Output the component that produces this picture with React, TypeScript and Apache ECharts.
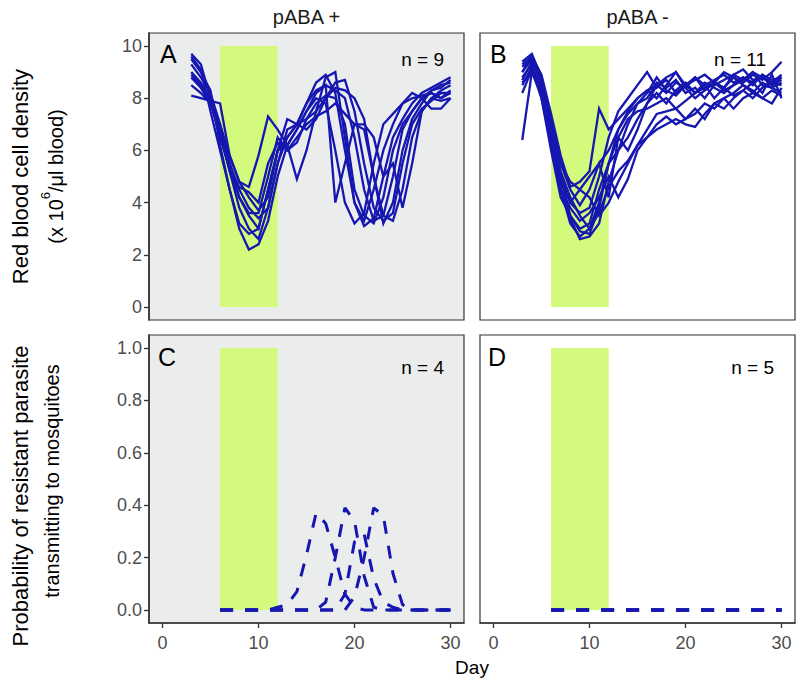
import React, { useEffect, useRef } from "react";
import * as echarts from "echarts";

// ---------- data ----------
const daysRBC = [3, 4, 5, 6, 7, 8, 9, 10, 11, 12, 13, 14, 15, 16, 17, 18, 19, 20, 21, 22, 23, 24, 25, 26, 27, 28, 29, 30];
const daysProb = [6, 7, 8, 9, 10, 11, 12, 13, 14, 15, 16, 17, 18, 19, 20, 21, 22, 23, 24, 25, 26, 27, 28, 29, 30];

const treatmentWindow = [6, 12];

const rbcPabaPlus = [
  [9.7, 9.3, 8.0, 6.8, 5.2, 3.8, 3.0, 2.6, 3.8, 5.5, 6.5, 7.0, 7.8, 8.6, 8.9, 8.2, 6.0, 4.0, 3.1, 3.4, 5.0, 6.5, 7.2, 7.8, 8.2, 8.4, 8.6, 8.8],
  [9.5, 9.0, 8.3, 6.2, 4.5, 3.0, 2.2, 2.4, 3.3, 5.0, 6.2, 6.8, 7.5, 8.0, 7.8, 6.0, 4.0, 3.2, 3.6, 5.5, 7.0, 7.4, 7.8, 8.0, 8.1, 8.2, 8.0, 8.3],
  [9.0, 8.6, 8.0, 7.0, 5.8, 4.8, 4.6, 5.8, 7.3, 6.8, 6.2, 6.8, 7.5, 8.2, 8.5, 8.3, 8.0, 6.5, 4.5, 3.3, 3.5, 5.0, 6.8, 7.5, 8.0, 8.3, 8.5, 8.6],
  [8.8, 8.4, 7.8, 6.6, 5.2, 4.2, 3.6, 3.6, 5.0, 6.5, 6.0, 6.3, 7.2, 7.8, 8.1, 8.0, 7.0, 4.5, 3.5, 3.2, 4.2, 6.0, 7.0, 7.5, 8.0, 8.2, 8.0, 8.2],
  [8.5, 8.2, 7.8, 6.8, 5.5, 4.5, 3.8, 3.4, 3.8, 5.5, 6.8, 7.0, 7.2, 7.5, 8.0, 8.4, 8.3, 8.0, 7.2, 5.0, 3.5, 3.3, 4.5, 6.5, 7.5, 8.0, 8.3, 8.5],
  [8.1, 8.0, 7.9, 6.5, 5.3, 4.6, 4.4, 4.0, 5.5, 6.3, 6.0, 6.5, 7.0, 7.3, 7.5, 7.8, 7.4, 7.0, 7.0, 6.5, 5.0, 5.5, 3.8, 5.5, 7.5, 8.0, 7.9, 8.0],
  [9.3, 8.8, 8.2, 7.0, 5.5, 4.2, 3.5, 3.0, 4.5, 6.0, 6.2, 4.9, 6.0, 7.5, 8.8, 9.0, 6.5, 4.0, 3.3, 4.5, 6.0, 7.0, 7.8, 8.2, 8.0, 7.6, 7.6, 8.0],
  [9.6, 9.1, 7.5, 6.0, 4.5, 3.2, 2.8, 3.0, 4.5, 6.0, 6.5, 7.0, 7.8, 8.3, 8.5, 4.0, 5.5, 7.0, 6.8, 5.0, 3.2, 4.0, 6.0, 7.2, 7.8, 8.3, 8.4, 8.7],
  [8.9, 8.5, 7.9, 7.8, 5.8, 4.8, 4.2, 3.7, 4.2, 6.0, 7.2, 7.0, 6.8, 7.2, 8.0, 8.6, 8.7, 7.5, 5.5, 3.8, 3.3, 3.6, 5.5, 7.0, 7.6, 7.9, 8.2, 8.2],
];

const rbcPabaMinus = [
  [9.0, 9.6, 8.5, 6.5, 4.5, 3.2, 2.7, 3.0, 4.0, 5.5, 6.8, 7.5, 8.0, 8.3, 8.5, 8.2, 8.6, 8.4, 8.8, 8.5, 8.7, 8.9, 8.6, 8.8, 8.5, 8.9, 8.7, 8.8],
  [8.7, 9.4, 8.0, 6.0, 4.2, 3.5, 3.0, 3.2, 4.5, 5.5, 6.0, 6.5, 7.2, 7.8, 8.2, 7.8, 8.3, 8.6, 8.2, 8.5, 8.0, 8.4, 8.8, 8.5, 8.2, 8.6, 8.4, 8.6],
  [6.4, 9.0, 8.3, 6.8, 5.0, 4.0, 3.6, 3.8, 5.0, 6.5, 7.5, 8.0, 8.5, 9.0, 8.4, 8.7, 8.2, 8.5, 8.8, 8.3, 8.6, 8.4, 8.9, 8.7, 9.0, 8.5, 8.4, 8.2],
  [9.2, 9.5, 8.7, 7.0, 5.5, 4.8, 4.5, 4.2, 3.5, 4.0, 4.8, 5.5, 6.2, 6.8, 7.4, 7.5, 7.6, 7.2, 7.6, 7.2, 7.8, 8.0, 7.6, 8.0, 8.2, 8.0, 8.3, 8.1],
  [8.8, 9.3, 8.2, 6.2, 4.5, 3.8, 3.3, 3.6, 4.2, 5.0, 4.2, 4.9, 6.0, 6.5, 7.0, 7.3, 7.0, 7.2, 7.4, 7.8, 7.6, 8.0, 8.2, 8.5, 8.3, 8.0, 7.8, 8.4],
  [9.4, 9.7, 8.8, 7.2, 5.5, 4.5, 3.9, 4.5, 5.5, 4.2, 6.5, 6.0, 6.8, 7.8, 8.5, 8.8, 9.0, 8.5, 8.7, 8.9, 8.6, 9.0, 8.8, 8.6, 8.9, 8.7, 9.0, 9.4],
  [8.5, 9.2, 8.4, 6.5, 4.8, 4.0, 4.5, 5.0, 5.5, 6.0, 6.8, 7.4, 7.8, 8.2, 8.8, 8.3, 8.1, 8.5, 8.2, 8.6, 8.4, 8.2, 8.5, 8.8, 8.6, 8.9, 8.5, 8.7],
  [9.0, 9.5, 8.6, 6.7, 5.0, 3.5, 2.9, 2.8, 3.8, 5.5, 6.5, 7.2, 7.5, 7.6, 7.8, 8.0, 7.6, 7.9, 8.2, 8.4, 8.6, 8.3, 8.5, 8.7, 9.0, 8.8, 8.5, 8.8],
  [8.2, 9.1, 8.0, 6.4, 4.6, 3.4, 2.6, 2.7, 3.2, 4.8, 6.0, 7.0, 7.8, 8.0, 8.6, 8.4, 8.7, 8.2, 8.4, 8.0, 8.5, 8.7, 8.9, 9.1, 8.7, 8.8, 8.6, 8.9],
  [9.3, 9.6, 8.9, 7.4, 5.8, 4.6, 4.8, 5.2, 7.6, 6.8, 7.2, 7.6, 8.0, 8.3, 8.0, 8.5, 9.0, 8.4, 8.0, 8.3, 8.6, 8.4, 8.1, 8.3, 8.6, 8.2, 8.9, 8.0],
  [8.6, 9.0, 8.1, 6.8, 5.2, 4.2, 3.5, 3.0, 3.6, 4.6, 5.2, 5.6, 6.2, 6.5, 6.8, 7.0, 7.2, 7.0, 6.9, 7.4, 7.8, 7.6, 8.0, 8.3, 8.0, 8.4, 8.6, 8.5],
];

const probPabaPlus = [
  [0, 0, 0, 0, 0, 0, 0.01, 0.02, 0.07, 0.21, 0.37, 0.33, 0.2, 0.06, 0.01, 0, 0, 0, 0, 0, 0, 0, 0, 0, 0],
  [0, 0, 0, 0, 0, 0, 0, 0, 0, 0, 0, 0.03, 0.2, 0.39, 0.34, 0.13, 0.01, 0, 0, 0, 0, 0, 0, 0, 0],
  [0, 0, 0, 0, 0, 0, 0, 0, 0, 0, 0, 0, 0, 0.06, 0.26, 0.29, 0.12, 0.03, 0.01, 0, 0, 0, 0, 0, 0],
  [0, 0, 0, 0, 0, 0, 0, 0, 0, 0, 0, 0, 0, 0, 0.05, 0.2, 0.39, 0.36, 0.14, 0.02, 0, 0, 0, 0, 0],
];

const probPabaMinus = [
  [0, 0, 0, 0, 0, 0, 0, 0, 0, 0, 0, 0, 0, 0, 0, 0, 0, 0, 0, 0, 0, 0, 0, 0, 0],
  [0, 0, 0, 0, 0, 0, 0, 0, 0, 0, 0, 0, 0, 0, 0, 0, 0, 0, 0, 0, 0, 0, 0, 0, 0],
  [0, 0, 0, 0, 0, 0, 0, 0, 0, 0, 0, 0, 0, 0, 0, 0, 0, 0, 0, 0, 0, 0, 0, 0, 0],
  [0, 0, 0, 0, 0, 0, 0, 0, 0, 0, 0, 0, 0, 0, 0, 0, 0, 0, 0, 0, 0, 0, 0, 0, 0],
  [0, 0, 0, 0, 0, 0, 0, 0, 0, 0, 0, 0, 0, 0, 0, 0, 0, 0, 0, 0, 0, 0, 0, 0, 0],
];

const rbcTicks = [0, 2, 4, 6, 8, 10];
const probTicks = [0, 0.2, 0.4, 0.6, 0.8, 1.0];
const dayTicks = [0, 10, 20, 30];

const stripLabels = ["pABA +", "pABA -"];
const panelLetters = ["A", "B", "C", "D"];
const panelCounts = ["n = 9", "n = 11", "n = 4", "n = 5"];

// ---------- styles ----------
const FONT = "Liberation Sans, Arial, Helvetica, sans-serif";
const BLUE = "#1616b0";
const GREEN = "#D3FA7C";
const GREY_BG = "#EBEDED";
const BORDER = "#333333";
const TICK_TXT = "#4D4D4D";

export default function App() {
  const ref = useRef<HTMLDivElement>(null);

  useEffect(() => {
    document.body.style.margin = "0";
    if (!ref.current) return;
    const chart = echarts.init(ref.current, null, { renderer: "svg" });

    const L1 = 149, L2 = 480, W = 315;
    const T1 = 33, H1 = 287, T2 = 335, H2 = 288;

    const grids = [
      { left: L1, top: T1, width: W, height: H1, bg: GREY_BG },
      { left: L2, top: T1, width: W, height: H1, bg: "#ffffff" },
      { left: L1, top: T2, width: W, height: H2, bg: GREY_BG },
      { left: L2, top: T2, width: W, height: H2, bg: "#ffffff" },
    ].map((g) => ({
      left: g.left, top: g.top, width: g.width, height: g.height,
      show: true, backgroundColor: g.bg, borderColor: BORDER, borderWidth: 1.2,
      containLabel: false,
    }));

    const xAxes = [0, 1, 2, 3].map((i) => {
      const bottom = i >= 2;
      return {
        type: "value", gridIndex: i, min: -1.4, max: 31.4,
        splitLine: { show: false },
        axisLine: { show: bottom, onZero: false, lineStyle: { color: BORDER, width: 1.6 } },
        axisTick: { show: bottom, length: 5, customValues: dayTicks, lineStyle: { color: BORDER, width: 1.3 } },
        axisLabel: { show: bottom, customValues: dayTicks, color: TICK_TXT, fontSize: 18, fontFamily: FONT, margin: 11 },
      };
    });

    const yAxes = [0, 1, 2, 3].map((i) => {
      const left = i % 2 === 0;
      const rbc = i < 2;
      const ticks = rbc ? rbcTicks : probTicks;
      return {
        type: "value", gridIndex: i,
        min: rbc ? -0.5 : -0.05, max: rbc ? 10.5 : 1.05,
        splitLine: { show: false },
        axisLine: { show: left, onZero: false, lineStyle: { color: BORDER, width: 1.6 } },
        axisTick: { show: left, length: 5, customValues: ticks, lineStyle: { color: BORDER, width: 1.3 } },
        axisLabel: {
          show: left, customValues: ticks, color: TICK_TXT, fontSize: 18, fontFamily: FONT, margin: 7,
          formatter: (v: number) => (rbc ? String(Math.round(v)) : v.toFixed(1)),
        },
      };
    });

    const shade = (ymax: number) => ({
      silent: true,
      itemStyle: { color: GREEN, opacity: 1 },
      data: [[{ xAxis: treatmentWindow[0], yAxis: 0 }, { xAxis: treatmentWindow[1], yAxis: ymax }]],
    });

    const series: any[] = [];
    const addPanel = (idx: number, days: number[], lines: number[][], dashed: boolean, ymax: number) => {
      lines.forEach((vals, j) => {
        series.push({
          type: "line", xAxisIndex: idx, yAxisIndex: idx,
          data: days.map((d, k) => [d, vals[k]]),
          showSymbol: false, symbol: "none", silent: true, z: 3,
          lineStyle: dashed
            ? { color: BLUE, width: 3, type: [13, 12], cap: "butt" }
            : { color: BLUE, width: 2.3, join: "miter" },
          markArea: j === 0 ? shade(ymax) : undefined,
        });
      });
    };
    addPanel(0, daysRBC, rbcPabaPlus, false, 10);
    addPanel(1, daysRBC, rbcPabaMinus, false, 10);
    addPanel(2, daysProb, probPabaPlus, true, 1);
    addPanel(3, daysProb, probPabaMinus, true, 1);

    const txt = (x: number, y: number, text: string, size: number, align: string, valign: string, extra: any = {}) => ({
      type: "text", x, y, silent: true, z: 10,
      style: { text, fontSize: size, fontFamily: FONT, fill: "#000", textAlign: align, textVerticalAlign: valign, ...extra },
    });

    const graphic: any[] = [
      txt(L1 + W / 2, 17, stripLabels[0], 20, "center", "middle", { fill: "#1a1a1a" }),
      txt(L2 + W / 2, 17, stripLabels[1], 20, "center", "middle", { fill: "#1a1a1a" }),
      txt(160, 54, panelLetters[0], 25, "left", "middle"),
      txt(490, 54, panelLetters[1], 25, "left", "middle"),
      txt(158, 357, panelLetters[2], 25, "left", "middle"),
      txt(488, 357, panelLetters[3], 25, "left", "middle"),
      txt(444, 59, panelCounts[0], 19, "right", "middle"),
      txt(766, 59, panelCounts[1], 19, "right", "middle"),
      txt(444, 367, panelCounts[2], 19, "right", "middle"),
      txt(774, 367, panelCounts[3], 19, "right", "middle"),
      txt((L1 + L2 + W) / 2, 667, "Day", 19, "center", "middle"),
      { ...txt(20, T1 + H1 / 2, "Red blood cell density", 22, "center", "middle"), rotation: Math.PI / 2 },
      {
        type: "text", x: 52, y: T1 + H1 / 2, rotation: Math.PI / 2, silent: true, z: 10,
        style: {
          text: "{n|(x 10}{s|6}{n|/μl blood)}",
          textAlign: "center", textVerticalAlign: "middle", fontFamily: FONT, fill: "#000",
          rich: {
            n: { fontSize: 20, lineHeight: 27, fontFamily: FONT, fill: "#000", verticalAlign: "bottom" },
            s: { fontSize: 13, lineHeight: 15, fontFamily: FONT, fill: "#000", verticalAlign: "top" },
          },
        },
      },
      { ...txt(20, T2 + H2 / 2 + 17, "Probability of resistant parasite", 22, "center", "middle"), rotation: Math.PI / 2 },
      { ...txt(52, T2 + H2 / 2 + 2, "transmitting to mosquitoes", 20, "center", "middle"), rotation: Math.PI / 2 },
    ];

    chart.setOption({
      animation: false,
      backgroundColor: "#ffffff",
      grid: grids,
      xAxis: xAxes,
      yAxis: yAxes,
      series,
      graphic,
    });

    return () => chart.dispose();
  }, []);

  return <div ref={ref} style={{ width: 802, height: 684 }} />;
}
